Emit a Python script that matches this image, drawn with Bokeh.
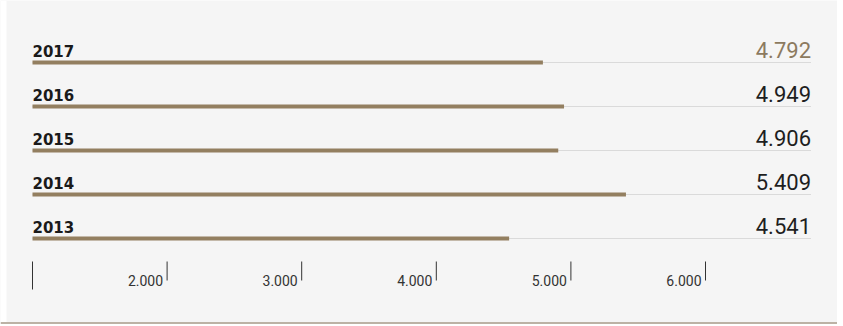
from bokeh.plotting import figure
from bokeh.models import Range1d, ColumnDataSource
from bokeh.core.properties import value
from bokeh.embed import file_html
from bokeh.resources import INLINE

# ---- data ----
years = ["2017", "2016", "2015", "2014", "2013"]
values = [4792, 4949, 4906, 5409, 4541]
value_colors = ["#8c7a5f", "#1e1e1e", "#1e1e1e", "#1e1e1e", "#1e1e1e"]
tick_values = [1000, 2000, 3000, 4000, 5000, 6000]
tick_labels = ["", "2.000", "3.000", "4.000", "5.000", "6.000"]
axis_base = 1000

# ---- layout constants (pixels in figure space) ----
W, H = 837, 324
row0, row_step = 62, 44
px_per_unit = 0.1346
x_start = axis_base - 32 / px_per_unit
x_end = x_start + W / px_per_unit
label_x_end = x_start + 810.5 / px_per_unit
panel_left = x_start + 6 / px_per_unit

def fmt(v):
    return f"{v:,}".replace(",", ".")

rows = [row0 + row_step * i for i in range(len(years))]

p = figure(width=W, height=H, output_backend="svg", toolbar_location=None,
           x_range=Range1d(x_start, x_end), y_range=Range1d(H, 0),
           min_border=0, background_fill_color="#f5f5f5",
           border_fill_color="#f5f5f5", outline_line_color=None)
p.axis.visible = False
p.grid.visible = False

# white strip left of panel
p.quad(left=[x_start], right=[panel_left], top=[0], bottom=[H],
       fill_color="white", line_color=None)

src = ColumnDataSource(dict(
    y=rows, year=years, v=values, lbl=[fmt(v) for v in values],
    base=[axis_base] * len(years), right=[label_x_end] * len(years),
    col=value_colors,
    ylab=[r - 11.5 for r in rows], yval=[r - 12.7 for r in rows],
))

# separator lines
p.segment(x0="base", x1="right", y0="y", y1="y", source=src,
          line_color="#dadada", line_width=1)
# bars
p.hbar(y="y", left="base", right="v", height=4, source=src,
       fill_color="#937f60", line_color=None)
# year labels
p.text(x="base", y="ylab", text="year", source=src,
       text_font=value("DejaVu Sans"), text_font_style="bold",
       text_font_size="15px", text_color="#1a1a1a",
       text_baseline="alphabetic", text_align="left")
# value labels
p.text(x="right", y="yval", text="lbl", source=src,
       text_font=value("Roboto"), text_font_size="22px", text_color="col",
       text_baseline="alphabetic", text_align="right")

# ticks
tick_src = ColumnDataSource(dict(
    x=tick_values, lab=tick_labels,
    y0=[261] * len(tick_values),
    y1=[289] + [280] * (len(tick_values) - 1),
    ylab=[280] * len(tick_values),
))
p.segment(x0="x", x1="x", y0="y0", y1="y1", source=tick_src,
          line_color="#333333", line_width=1)
p.text(x="x", y="ylab", text="lab", source=tick_src, x_offset=-4,
       text_font=value("Roboto"), text_font_size="14px", text_color="#333333",
       text_baseline="alphabetic", text_align="right")

# bottom border
p.segment(x0=[x_start], x1=[x_end], y0=[322.5], y1=[322.5],
          line_color="#bcb2a5", line_width=2)

open("out.html", "w").write(file_html(p, INLINE))
